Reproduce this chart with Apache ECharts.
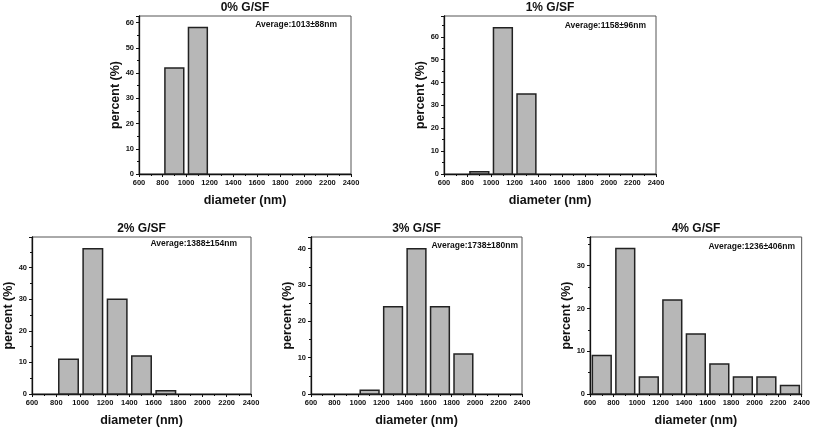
<!DOCTYPE html>
<html><head><meta charset="utf-8">
<script src="https://cdn.jsdelivr.net/npm/echarts@6/dist/echarts.min.js"></script>
<style>html,body{margin:0;padding:0;background:#fff}#c{width:813px;height:428px}</style>
</head><body><div id="c"></div>
<script>
// ---- data ----
const binStarts = [600, 800, 1000, 1200, 1400, 1600, 1800, 2000, 2200];
const binWidth = 200;
const titles = ['0% G/SF', '1% G/SF', '2% G/SF', '3% G/SF', '4% G/SF'];
const averages = ['Average:1013±88nm', 'Average:1158±96nm', 'Average:1388±154nm', 'Average:1738±180nm', 'Average:1236±406nm'];
const pct0 = [0, 42, 58, 0, 0, 0, 0, 0, 0];
const pct1 = [0, 1, 64, 35, 0, 0, 0, 0, 0];
const pct2 = [0, 11, 46, 30, 12, 1, 0, 0, 0];
const pct3 = [0, 0, 1, 24, 40, 24, 11, 0, 0];
const pct4 = [9, 34, 4, 22, 14, 7, 4, 4, 2];
const yMax = [62.6, 69.1, 49.7, 43.2, 36.7];
const xMin = 600, xMax = 2400, xStep = 200;
const yStep = 10;
const xName = 'diameter (nm)';
const yName = 'percent (%)';

const series = [pct0, pct1, pct2, pct3, pct4];

// ---- layout ----
const grids = [
  {left: 139, top: 16, width: 212, height: 158},
  {left: 444, top: 16, width: 212, height: 158},
  {left: 32, top: 237, width: 219, height: 157},
  {left: 311, top: 237, width: 211, height: 157},
  {left: 590, top: 237, width: 212, height: 157}
];
const avgPos = [[14, 9], [10, 10], [14, 7], [4, 9], [7, 10]];
const FONT = '"Liberation Sans", Arial, sans-serif';

const option = {
  animation: false,
  backgroundColor: '#fff',
  grid: grids.map(g => Object.assign({show: true, borderColor: '#555', borderWidth: 1, backgroundColor: 'transparent'}, g)),
  xAxis: grids.map((g, i) => ({
    type: 'value', gridIndex: i, min: xMin, max: xMax, interval: xStep,
    name: xName, nameLocation: 'middle', nameGap: 20,
    nameTextStyle: {fontFamily: FONT, fontWeight: 'bold', fontSize: 12.5, color: '#111'},
    axisLine: {show: true, onZero: false, lineStyle: {color: '#111', width: 1.3}},
    axisTick: {show: true, inside: false, length: 3, lineStyle: {color: '#111'}},
    minorTick: {show: true, splitNumber: 2, length: 2, lineStyle: {color: '#111'}},
    axisLabel: {fontFamily: FONT, fontWeight: 'bold', fontSize: 7.5, color: '#111', margin: 5,
                formatter: v => String(v)},
    splitLine: {show: false}
  })),
  yAxis: grids.map((g, i) => ({
    type: 'value', gridIndex: i, min: 0, max: yMax[i], interval: yStep,
    name: yName, nameLocation: 'middle', nameGap: 17,
    nameTextStyle: {fontFamily: FONT, fontWeight: 'bold', fontSize: 12.5, color: '#111'},
    axisLine: {show: true, lineStyle: {color: '#111', width: 1.3}},
    axisTick: {show: true, inside: false, length: 3, lineStyle: {color: '#111'}},
    minorTick: {show: true, splitNumber: 2, length: 2, lineStyle: {color: '#111'}},
    axisLabel: {fontFamily: FONT, fontWeight: 'bold', fontSize: 7.5, color: '#111', margin: 5, showMaxLabel: false,
                formatter: v => String(v)},
    splitLine: {show: false}
  })),
  graphic: grids.flatMap((g, i) => [
    {type: 'text', x: g.left + g.width / 2, y: g.top - 8,
     style: {text: titles[i], font: 'bold 12px ' + FONT, fill: '#111', textAlign: 'center', textVerticalAlign: 'middle'}},
    {type: 'text', x: g.left + g.width - avgPos[i][0], y: g.top + avgPos[i][1], z: 10,
     style: {text: averages[i], font: 'bold 8.5px ' + FONT, fill: '#111', textAlign: 'right', textVerticalAlign: 'middle'}}
  ]),
  series: series.map((vals, i) => ({
    type: 'custom', xAxisIndex: i, yAxisIndex: i,
    data: binStarts.map((s, k) => [s, vals[k]]).filter(d => d[1] > 0),
    renderItem: function (params, api) {
      const s = api.value(0), v = api.value(1);
      const p0 = api.coord([s + binWidth * 0.1, v]);
      const p1 = api.coord([s + binWidth * 0.9, 0]);
      return {
        type: 'rect',
        shape: {x: p0[0], y: p0[1], width: p1[0] - p0[0], height: p1[1] - p0[1]},
        style: {fill: '#b7b7b7', stroke: '#222', lineWidth: 1.5}
      };
    }
  }))
};

const chart = echarts.init(document.getElementById('c'), null, {renderer: 'canvas'});
chart.setOption(option);
</script>
</body></html>
